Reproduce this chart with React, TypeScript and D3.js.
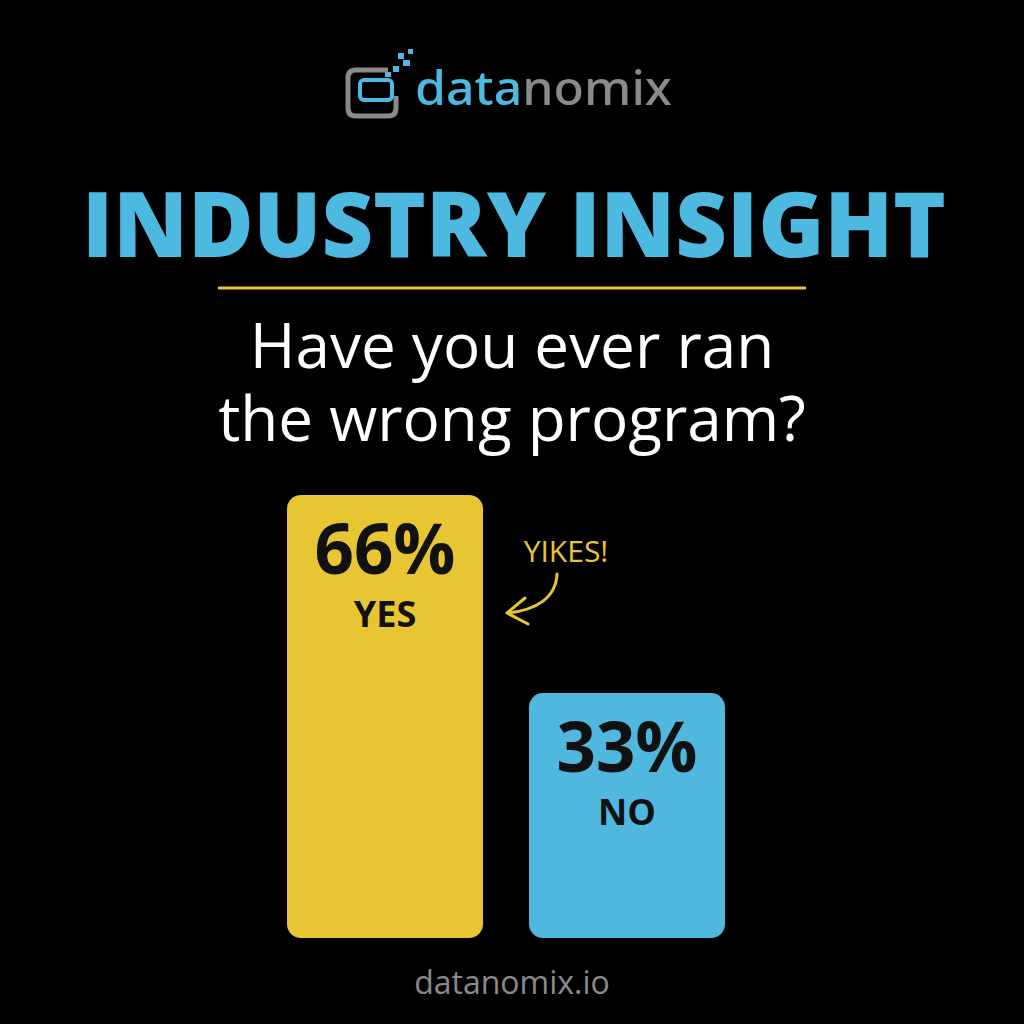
import React from "react";
import * as d3 from "d3";

const categories = ["YES", "NO"];
const values = [66, 33];
const valueLabels = ["66%", "33%"];
const barColors = ["#E8C532", "#50B8DF"];
const titleText = "INDUSTRY INSIGHT";
const questionLines = ["Have you ever ran", "the wrong program?"];
const annotation = "YIKES!";
const footer = "datanomix.io";

const W = 1024;
const H = 1024;

export default function App() {
  const x = d3
    .scaleBand<string>()
    .domain(categories)
    .range([287, 725])
    .paddingInner(0.19)
    .paddingOuter(0);
  const y = d3.scaleLinear().domain([-7.8, 66]).range([938, 495]);

  const arrowPath = d3.path();
  arrowPath.moveTo(557, 574);
  arrowPath.bezierCurveTo(556, 598, 536, 610, 508, 613);
  const headPath = "M525,598 L507,613 L528,624";

  const logoSquares = [
    [398, 53, 6, 6],
    [408, 49, 5, 5],
    [403, 60, 7, 6],
    [393, 66, 6, 6],
    [385, 72, 6, 5],
  ];

  return (
    <svg
      width={W}
      height={H}
      viewBox={`0 0 ${W} ${H}`}
      style={{ position: "absolute", left: 0, top: 0, background: "#000" }}
    >
      <rect x={0} y={0} width={W} height={H} fill="#000" />

      {/* logo */}
      <g>
        <path
          d="M388,70 L356,70 Q348,70 348,78 L348,108 Q348,116 356,116 L388,116 Q396,116 396,108 L396,96"
          fill="none"
          stroke="#8A8A8A"
          strokeWidth={5}
        />
        <rect x={360} y={80} width={32} height={20} rx={4} fill="none" stroke="#4DB8E0" strokeWidth={4} />
        {logoSquares.map((s, i) => (
          <rect key={i} x={s[0]} y={s[1]} width={s[2]} height={s[3]} fill="#4DB8E0" />
        ))}
        <text
          x={415}
          y={105}
          fontFamily="'Noto Sans', sans-serif"
          fontWeight={500}
          fontSize={47}
          textLength={257}
          lengthAdjust="spacingAndGlyphs"
        >
          <tspan fill="#4DB8E0">data</tspan>
          <tspan fill="#8A8A8A">nomix</tspan>
        </text>
      </g>

      {/* title */}
      <text
        x={82}
        y={257}
        fontFamily="'Open Sans', sans-serif"
        fontWeight={800}
        fontSize={90}
        fill="#4DB8E0"
        textLength={864}
        lengthAdjust="spacingAndGlyphs"
      >
        {titleText}
      </text>
      <line x1={218} x2={806} y1={288} y2={288} stroke="#E8C532" strokeWidth={3} />

      {/* question */}
      {questionLines.map((t, i) => (
        <text
          key={i}
          x={512}
          y={368 + i * 73}
          textAnchor="middle"
          fontFamily="'Open Sans', sans-serif"
          fontSize={62}
          fill="#FFFFFF"
        >
          {t}
        </text>
      ))}

      {/* bars */}
      {categories.map((c, i) => {
        const bx = x(c)!;
        const by = y(values[i]);
        const cx = bx + x.bandwidth() / 2;
        return (
          <g key={c}>
            <rect
              x={bx}
              y={by}
              width={x.bandwidth()}
              height={y(-7.8) - by}
              rx={14}
              ry={14}
              fill={barColors[i]}
            />
            <text
              x={cx}
              y={by + 79}
              textAnchor="middle"
              fontFamily="'Open Sans', sans-serif"
              fontWeight={700}
              fontSize={69}
              fill="#111"
            >
              {valueLabels[i]}
            </text>
            <text
              x={cx}
              y={by + 132}
              textAnchor="middle"
              fontFamily="'Open Sans', sans-serif"
              fontWeight={700}
              fontSize={36}
              fill="#111"
            >
              {c}
            </text>
          </g>
        );
      })}

      {/* annotation */}
      <text
        x={566}
        y={562}
        textAnchor="middle"
        fontFamily="'Open Sans', sans-serif"
        fontWeight={500}
        fontSize={30}
        fill="#E8C532"
      >
        {annotation}
      </text>
      <path d={arrowPath.toString()} fill="none" stroke="#E8C532" strokeWidth={3} strokeLinecap="round" />
      <path d={headPath} fill="none" stroke="#E8C532" strokeWidth={3} strokeLinecap="round" strokeLinejoin="round" />

      {/* footer */}
      <text
        x={512}
        y={994}
        textAnchor="middle"
        fontFamily="'Open Sans', sans-serif"
        fontSize={32}
        fill="#8A8A8A"
      >
        {footer}
      </text>
    </svg>
  );
}
